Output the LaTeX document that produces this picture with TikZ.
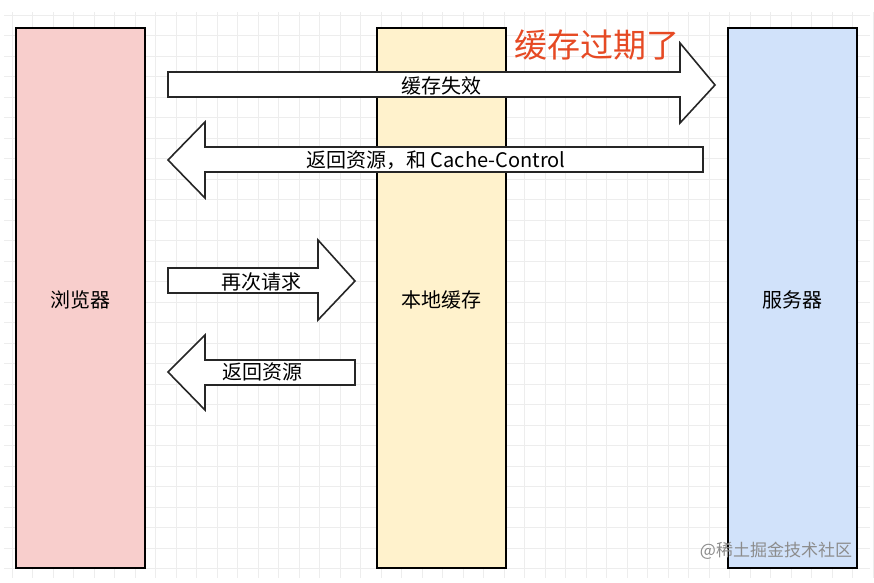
\documentclass[tikz,border=0pt]{standalone}
\usepackage{fontspec}
\setmainfont{Noto Sans CJK SC}
\begin{document}
\begin{tikzpicture}[x=1pt,y=-1pt,
  col/.style={draw=black,line width=1.6pt},
  arr/.style={draw=black!85,line width=1.6pt,fill=white,line join=miter},
  lbl/.style={font=\fontsize{20}{20}\selectfont,inner sep=0pt},
  grid/.style={draw=black!7,line width=0.8pt}]
\useasboundingbox (0,0) rectangle (874,582);
\fill[white] (0,0) rectangle (874,582);
\foreach \i in {0,...,42} \draw[grid] ({12+20.5*\i},12) -- ({12+20.5*\i},578);
\foreach \j in {0,...,27} \draw[grid] (4,{15+20.5*\j}) -- (870,{15+20.5*\j});
\draw[col,fill={rgb,255:red,248;green,206;blue,204}] (16,28) rectangle (145,568);
\draw[col,fill={rgb,255:red,255;green,242;blue,204}] (377,28) rectangle (506,568);
\draw[col,fill={rgb,255:red,209;green,226;blue,250}] (728,28) rectangle (857,568);
\node[lbl] (b) at (80.5,300) {浏览器};
\node[lbl] (c) at (441.5,300) {本地缓存};
\node[lbl] (s) at (792.5,300) {服务器};
\draw[arr] (168,72) -- (680,72) -- (680,43) -- (715,85) -- (680,123) -- (680,97) -- (168,97) -- cycle;
\node[lbl] (l1) at (441,86) {缓存失效};
\draw[arr] (703,147) -- (205,147) -- (205,122) -- (168,160) -- (205,198) -- (205,172) -- (703,172) -- cycle;
\node[lbl] (l2) at (436,160) {返回资源，和 Cache-Control};
\draw[arr] (168,268) -- (318,268) -- (318,240) -- (355,281) -- (318,320) -- (318,293) -- (168,293) -- cycle;
\node[lbl] (l3) at (261,282) {再次请求};
\draw[arr] (355,360) -- (205,360) -- (205,335) -- (168,372) -- (205,410) -- (205,385) -- (355,385) -- cycle;
\node[lbl] (l4) at (262,372) {返回资源};
\node[lbl,font=\fontsize{33}{33}\selectfont,text={rgb,255:red,230;green,74;blue,36}] (t) at (597,45) {缓存过期了};
\node[lbl,font=\fontsize{17}{17}\selectfont,text=black!45] (w) at (776,551) {@稀土掘金技术社区};
\end{tikzpicture}
\end{document}
